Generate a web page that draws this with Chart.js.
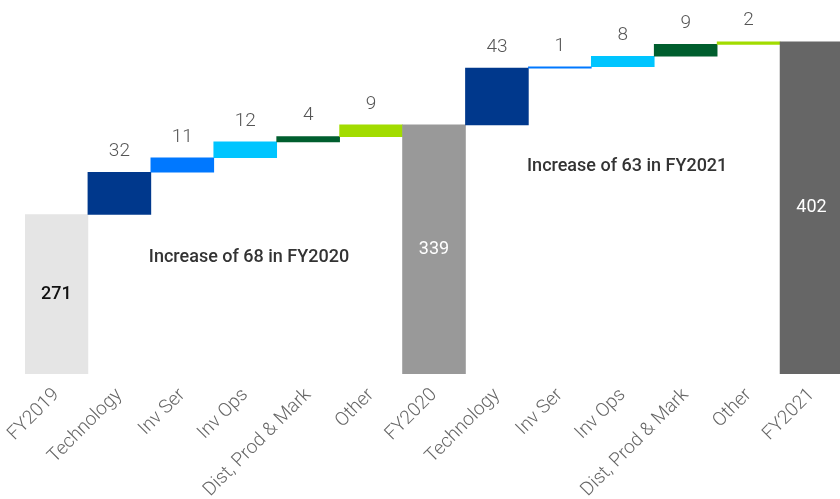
<!DOCTYPE html>
<html>
<head>
<meta charset="utf-8">
<script src="https://cdn.jsdelivr.net/npm/chart.js@4/dist/chart.umd.min.js"></script>
<style>
  html, body { margin: 0; padding: 0; background: #ffffff; overflow: hidden; }
  #wrap { width: 840px; height: 499px; overflow: hidden; }
</style>
</head>
<body>
<div id="wrap"><canvas id="c" width="843" height="499"></canvas></div>
<script>
// Waterfall: FY2019 -> FY2020 -> FY2021 with the drivers of each increase
const categories = ['FY2019', 'Technology', 'Inv Ser', 'Inv Ops', 'Dist, Prod & Mark', 'Other',
                    'FY2020', 'Technology', 'Inv Ser', 'Inv Ops', 'Dist, Prod & Mark', 'Other', 'FY2021'];
// null marks a total bar; numbers are the step changes
const deltas = [null, 32, 11, 12, 4, 9, null, 43, 1, 8, 9, 2, null];
const totals = [271, null, null, null, null, null, 339, null, null, null, null, null, 402];
const barColors = ['#e5e5e5', '#00388c', '#0078ff', '#00c5ff', '#005e2e', '#a2dc00',
                   '#999999', '#00388c', '#0078ff', '#00c5ff', '#005e2e', '#a2dc00', '#666666'];
const notes = [
  { text: 'Increase of 68 in FY2020', at: 3.06, value: 238 },
  { text: 'Increase of 63 in FY2021', at: 9.07, value: 307 }
];

// floating ranges built from totals and steps
const ranges = [];
let running = 0;
for (let i = 0; i < categories.length; i++) {
  if (totals[i] !== null) {
    running = totals[i];
    ranges.push([0, totals[i]]);
  } else {
    ranges.push([running, running + deltas[i]]);
    running += deltas[i];
  }
}

const FONT = 'Roboto, "Liberation Sans", sans-serif';

const labelPlugin = {
  id: 'waterfallLabels',
  afterDatasetsDraw(chart) {
    const ctx = chart.ctx;
    const meta = chart.getDatasetMeta(0);
    ctx.save();
    ctx.textAlign = 'center';
    ctx.textBaseline = 'middle';
    meta.data.forEach((bar, i) => {
      if (totals[i] !== null) {
        const top = bar.y;
        const bottom = chart.chartArea.bottom;
        ctx.font = (i === 0 ? '500 ' : '400 ') + '18px ' + FONT;
        ctx.fillStyle = i === 0 ? '#111111' : '#ffffff';
        ctx.fillText(String(totals[i]), bar.x, (top + bottom) / 2);
      } else {
        const top = Math.min(bar.y, bar.base);
        ctx.font = '300 19px ' + FONT;
        ctx.fillStyle = '#555555';
        ctx.fillText(String(deltas[i]), bar.x, top - 21);
      }
    });
    const xs = chart.scales.x, ys = chart.scales.y;
    ctx.font = '500 18px ' + FONT;
    ctx.fillStyle = '#333333';
    notes.forEach(n => {
      ctx.fillText(n.text, xs.getPixelForValue(n.at), ys.getPixelForValue(n.value));
    });
    ctx.restore();
  }
};

new Chart(document.getElementById('c'), {
  type: 'bar',
  data: {
    labels: categories,
    datasets: [{
      data: ranges,
      backgroundColor: barColors,
      borderWidth: 0,
      barPercentage: 1,
      categoryPercentage: 1
    }]
  },
  options: {
    responsive: false,
    animation: false,
    devicePixelRatio: 1,
    layout: { padding: { left: 25, right: 0, top: 18, bottom: 0 } },
    plugins: { legend: { display: false }, tooltip: { enabled: false } },
    scales: {
      x: {
        grid: { display: false, drawTicks: false },
        border: { display: false },
        ticks: {
          minRotation: 45,
          maxRotation: 45,
          padding: 10,
          color: '#666666',
          font: { family: FONT, size: 19, weight: '300' }
        },
        afterFit(scale) { scale.height = 125; }
      },
      y: {
        display: false,
        min: 150,
        max: 420
      }
    }
  },
  plugins: [labelPlugin]
});
</script>
</body>
</html>
